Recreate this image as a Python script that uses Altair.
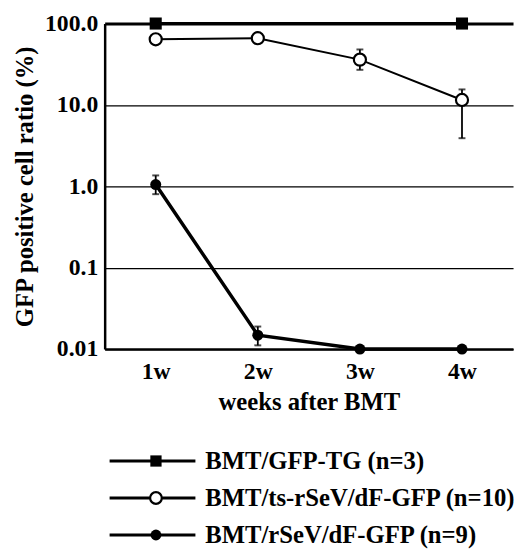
import json
import altair as alt
import pandas as pd

weeks = ["1w", "2w", "3w", "4w"]

tg_weeks = ["1w", "4w"]
tg_vals = [100, 100]

ts_vals = [64, 66, 36, 11.5]
ts_err_weeks = ["3w", "4w"]
ts_lo = [27, 3.9]
ts_hi = [48, 15.5]

rs_vals = [1.05, 0.0148, 0.01, 0.01]
rs_err_weeks = ["1w", "2w"]
rs_lo = [0.8, 0.0111]
rs_hi = [1.36, 0.0189]

y_tick_values = [0.01, 0.1, 1, 10, 100]
y_tick_labels = ["0.01", "0.1", "1.0", "10.0", "100.0"]

legend_labels = ["BMT/GFP-TG (n=3)", "BMT/ts-rSeV/dF-GFP (n=10)", "BMT/rSeV/dF-GFP (n=9)"]

FONT = "Liberation Serif"

tg = pd.DataFrame({"week": tg_weeks, "v": tg_vals})
ts = pd.DataFrame({"week": weeks, "v": ts_vals})
ts_err = pd.DataFrame({"week": ts_err_weeks, "lo": ts_lo, "hi": ts_hi})
rs = pd.DataFrame({"week": weeks, "v": rs_vals})
rs_err = pd.DataFrame({"week": rs_err_weeks, "lo": rs_lo, "hi": rs_hi})

label_expr = f"{json.dumps(y_tick_labels)}[indexof({json.dumps(y_tick_values)}, datum.value)]"

x_enc = alt.X(
    "week:O",
    scale=alt.Scale(type="point", domain=weeks, padding=0.5),
    axis=alt.Axis(
        title="weeks after BMT",
        labelAngle=0,
        ticks=False,
        labelPadding=11,
        titlePadding=6,
        domainWidth=2.5,
        domainColor="black",
        grid=False,
        labelFontSize=24,
    ),
)

y_scale = alt.Scale(type="log", domain=[0.01, 100])
y_axis = alt.Axis(
    title="GFP positive cell ratio (%)",
    values=y_tick_values,
    labelExpr=label_expr,
    ticks=False,
    labelPadding=7,
    titlePadding=7,
    domainWidth=2.5,
    domainColor="black",
    grid=True,
    gridColor="black",
    gridWidth={"expr": "datum.value == 100 ? 3 : 1.3"},
    gridOpacity=1,
    labelFontSize=24,
    titleFontSize=25,
)

base_y = alt.Y("v:Q", scale=y_scale, axis=y_axis)

tg_line = alt.Chart(tg).mark_line(color="black", strokeWidth=3).encode(x=x_enc, y=base_y)
tg_pts = alt.Chart(tg).mark_point(shape="square", filled=True, color="black", size=150, opacity=1).encode(
    x=x_enc, y=alt.Y("v:Q", scale=y_scale)
)

ts_line = alt.Chart(ts).mark_line(color="black", strokeWidth=2).encode(x=x_enc, y=alt.Y("v:Q", scale=y_scale))
ts_rule = alt.Chart(ts_err).mark_rule(color="black", strokeWidth=1.8).encode(
    x=x_enc, y=alt.Y("lo:Q", scale=y_scale), y2="hi:Q"
)
ts_cap_lo = alt.Chart(ts_err).mark_tick(color="black", size=7, thickness=2).encode(
    x=x_enc, y=alt.Y("lo:Q", scale=y_scale)
)
ts_cap_hi = alt.Chart(ts_err).mark_tick(color="black", size=7, thickness=2).encode(
    x=x_enc, y=alt.Y("hi:Q", scale=y_scale)
)
ts_pts = alt.Chart(ts).mark_point(
    shape="circle", filled=True, fill="white", stroke="black", strokeWidth=2.2, size=150, opacity=1
).encode(x=x_enc, y=alt.Y("v:Q", scale=y_scale))

rs_line = alt.Chart(rs).mark_line(color="black", strokeWidth=3.5).encode(x=x_enc, y=alt.Y("v:Q", scale=y_scale))
rs_rule = alt.Chart(rs_err).mark_rule(color="black", strokeWidth=1.8).encode(
    x=x_enc, y=alt.Y("lo:Q", scale=y_scale), y2="hi:Q"
)
rs_cap_lo = alt.Chart(rs_err).mark_tick(color="black", size=7, thickness=2).encode(
    x=x_enc, y=alt.Y("lo:Q", scale=y_scale)
)
rs_cap_hi = alt.Chart(rs_err).mark_tick(color="black", size=7, thickness=2).encode(
    x=x_enc, y=alt.Y("hi:Q", scale=y_scale)
)
rs_pts = alt.Chart(rs).mark_point(shape="circle", filled=True, color="black", size=125, opacity=1).encode(
    x=x_enc, y=alt.Y("v:Q", scale=y_scale)
)

main = alt.layer(
    tg_line, ts_line, rs_line,
    ts_rule, ts_cap_lo, ts_cap_hi, rs_rule, rs_cap_lo, rs_cap_hi,
    tg_pts, ts_pts, rs_pts,
).properties(width=414, height=330)

leg_df = pd.DataFrame({"label": legend_labels, "row": legend_labels})
leg_y = alt.Y("row:O", scale=alt.Scale(type="point", domain=legend_labels, padding=0.2), axis=None)
leg_line = alt.Chart(leg_df).mark_rule(color="black", strokeWidth=3).encode(
    x=alt.value(5), x2=alt.value(92), y=leg_y
)
leg_sq = alt.Chart(leg_df.iloc[[0]]).mark_point(shape="square", filled=True, color="black", size=130, opacity=1).encode(
    x=alt.value(52), y=leg_y
)
leg_open = alt.Chart(leg_df.iloc[[1]]).mark_point(
    shape="circle", filled=True, fill="white", stroke="black", strokeWidth=2.2, size=140, opacity=1
).encode(x=alt.value(52), y=leg_y)
leg_fill = alt.Chart(leg_df.iloc[[2]]).mark_point(shape="circle", filled=True, color="black", size=120, opacity=1).encode(
    x=alt.value(52), y=leg_y
)
leg_text = alt.Chart(leg_df).mark_text(
    align="left", baseline="middle", font=FONT, fontWeight="bold", fontSize=25, color="black"
).encode(x=alt.value(102), y=leg_y, text="label:N")

legend = alt.layer(leg_line, leg_sq, leg_open, leg_fill, leg_text).properties(width=414, height=90)

chart = alt.vconcat(main, legend, spacing=35).properties(
    padding={"left": 5, "top": 0, "right": 0, "bottom": 0}
).configure_view(stroke=None).configure_axis(
    labelFont=FONT, labelFontWeight="bold", labelFontSize=24, labelColor="black",
    titleFont=FONT, titleFontWeight="bold", titleFontSize=25, titleColor="black",
)

chart.save("out.html", embed_options={"renderer": "svg", "actions": False})
